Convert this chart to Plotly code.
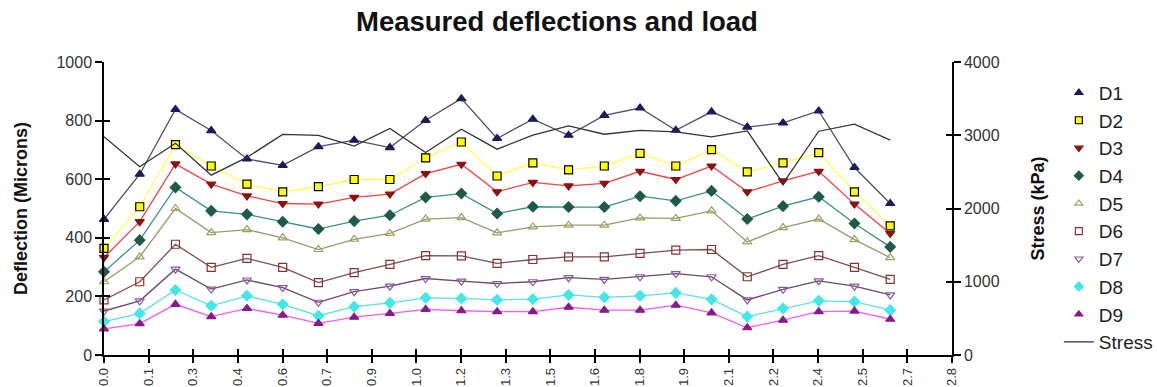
import numpy as np
import plotly.graph_objects as go

# ---- data ----
station = [0.000, 0.118, 0.236, 0.354, 0.472, 0.590, 0.708, 0.826, 0.944, 1.062, 1.180, 1.298,
           1.416, 1.534, 1.652, 1.770, 1.888, 2.006, 2.124, 2.242, 2.360, 2.478, 2.596]

D1 = [463, 617, 838, 766, 669, 647, 711, 733, 708, 801, 875, 739, 805, 750, 818, 843, 767, 830, 778, 792, 833, 640, 517]
D2 = [364, 506, 718, 645, 583, 557, 575, 599, 599, 673, 727, 611, 656, 632, 645, 688, 645, 701, 625, 656, 691, 557, 441]
D3 = [333, 455, 652, 583, 543, 517, 515, 538, 549, 619, 651, 557, 589, 577, 586, 627, 599, 645, 557, 594, 627, 515, 415]
D4 = [284, 392, 572, 492, 480, 455, 430, 457, 477, 538, 551, 483, 506, 505, 505, 542, 526, 560, 464, 508, 540, 449, 369]
D5 = [250, 335, 500, 418, 428, 400, 360, 395, 415, 464, 469, 417, 437, 443, 443, 468, 466, 492, 386, 435, 464, 394, 332]
D6 = [188, 250, 378, 299, 330, 299, 247, 281, 309, 339, 338, 313, 326, 335, 335, 347, 358, 360, 267, 309, 339, 299, 258]
D7 = [150, 185, 293, 225, 256, 230, 180, 216, 235, 261, 252, 244, 250, 264, 258, 267, 278, 267, 188, 224, 253, 235, 205]
D8 = [114, 142, 222, 168, 202, 173, 134, 165, 178, 195, 193, 188, 191, 205, 197, 202, 212, 190, 131, 159, 185, 182, 153]
D9 = [89, 107, 173, 131, 159, 136, 108, 129, 142, 156, 151, 148, 148, 163, 153, 153, 170, 144, 93, 119, 148, 150, 122]
stress = [2980, 2570, 2890, 2455, 2697, 3012, 2997, 2851, 3092, 2765, 3083, 2810, 3001, 3128, 3014, 3067,
          3046, 2978, 3060, 2342, 3055, 3151, 2933]

x_tick_labels = ["0.0", "0.1", "0.3", "0.4", "0.6", "0.7", "0.9", "1.0", "1.2", "1.3",
                 "1.5", "1.6", "1.8", "1.9", "2.1", "2.2", "2.4", "2.5", "2.7", "2.8"]
series_names = ["D1", "D2", "D3", "D4", "D5", "D6", "D7", "D8", "D9"]

# ---- styles ----
styles = {
    "D1": dict(symbol="triangle-up", mcolor="#1c1c5c", mline="#1c1c5c", lcolor="#4e4e6e"),
    "D2": dict(symbol="square", mcolor="#ffff00", mline="#000000", lcolor="#ffff55"),
    "D3": dict(symbol="triangle-down", mcolor="#8b1212", mline="#8b1212", lcolor="#f04444"),
    "D4": dict(symbol="diamond", mcolor="#1e5a48", mline="#1e5a48", lcolor="#3f8f8f"),
    "D5": dict(symbol="triangle-up-open", mcolor="#a0a060", mline="#a0a060", lcolor="#9a9a70"),
    "D6": dict(symbol="square-open", mcolor="#8b3030", mline="#8b3030", lcolor="#7a5050"),
    "D7": dict(symbol="triangle-down-open", mcolor="#8a5a9a", mline="#8a5a9a", lcolor="#6a4a6a"),
    "D8": dict(symbol="diamond", mcolor="#40e8e8", mline="#40e8e8", lcolor="#60e0e0"),
    "D9": dict(symbol="triangle-up", mcolor="#8a1a8a", mline="#8a1a8a", lcolor="#f060f0"),
}
values = {"D1": D1, "D2": D2, "D3": D3, "D4": D4, "D5": D5, "D6": D6, "D7": D7, "D8": D8, "D9": D9}

FONT = "Liberation Sans, Arial, sans-serif"

fig = go.Figure()
for name in series_names:
    s = styles[name]
    fig.add_trace(go.Scatter(
        x=station, y=values[name], name=name, mode="lines+markers",
        line=dict(color=s["lcolor"], width=1.3),
        marker=dict(symbol=s["symbol"], size=8, color=s["mcolor"],
                    line=dict(color=s["mline"], width=1.2)),
        cliponaxis=False, showlegend=False, legendgroup=name,
    ))
    # legend entry showing the marker only
    fig.add_trace(go.Scatter(
        x=[None], y=[None], name=name, mode="markers", legendgroup=name,
        marker=dict(symbol=s["symbol"], size=7, color=s["mcolor"],
                    line=dict(color=s["mline"], width=1.2)),
    ))

fig.add_trace(go.Scatter(
    x=station, y=stress, name="Stress", mode="lines", yaxis="y2",
    line=dict(color="#333333", width=1.3), cliponaxis=False,
))

# helper traces on overlay axes (for crossing ticks)
fig.add_trace(go.Scatter(x=[], y=[], xaxis="x2", yaxis="y3", showlegend=False, hoverinfo="skip"))
fig.add_trace(go.Scatter(x=[], y=[], xaxis="x2", yaxis="y4", showlegend=False, hoverinfo="skip"))

tickvals_x = np.linspace(0, 2.8, len(x_tick_labels))
xtickfont = dict(family=FONT, size=13, color="#333333")
ytickfont = dict(family=FONT, size=16, color="#333333")
titlefont = dict(family=FONT, size=18, color="#111111")

fig.update_layout(
    width=1157, height=387,
    margin=dict(l=104, r=205, t=62, b=32, autoexpand=False),
    paper_bgcolor="white", plot_bgcolor="white",
    title=dict(text="<b>Measured deflections and load</b>", x=0.4814, xanchor="center",
               y=0.945, yanchor="middle", font=dict(family=FONT, size=27.5, color="#111111")),
    showlegend=True,
    legend=dict(x=1.126, xanchor="left", y=0.96, yanchor="top",
                font=dict(family=FONT, size=19, color="#222222"),
                bgcolor="rgba(0,0,0,0)", tracegroupgap=0),
    xaxis=dict(range=[0, 2.8], tickvals=tickvals_x, ticktext=x_tick_labels, tickangle=-90,
               ticks="outside", ticklen=6, tickwidth=1.5, tickcolor="black",
               showline=True, linecolor="black", linewidth=1.5, showgrid=False, zeroline=False,
               tickfont=xtickfont, automargin=False),
    xaxis2=dict(range=[0, 2.8], overlaying="x", tickvals=tickvals_x, showticklabels=False,
                ticks="inside", ticklen=6, tickwidth=1.5, tickcolor="black",
                showline=False, showgrid=False, zeroline=False, side="bottom", automargin=False),
    yaxis=dict(range=[0, 1000], tickvals=[0, 200, 400, 600, 800, 1000],
               ticks="outside", ticklen=7, tickwidth=1.5, tickcolor="black",
               showline=True, linecolor="black", linewidth=1.5, showgrid=False, zeroline=False,
               tickfont=ytickfont, automargin=False,
               title=dict(text="<b>Deflection (Microns)</b>", font=titlefont, standoff=24)),
    yaxis2=dict(range=[0, 4000], tickvals=[0, 1000, 2000, 3000, 4000], overlaying="y", side="right",
                ticks="outside", ticklen=7, tickwidth=1.5, tickcolor="black",
                showline=True, linecolor="black", linewidth=1.5, showgrid=False, zeroline=False,
                tickfont=ytickfont, automargin=False,
                title=dict(text="<b>Stress (kPa)</b>", font=titlefont, standoff=33)),
    yaxis3=dict(range=[0, 1000], tickvals=[0, 200, 400, 600, 800, 1000], overlaying="y", side="left",
                showticklabels=False, ticks="inside", ticklen=6, tickwidth=1.5, tickcolor="black",
                showline=False, showgrid=False, zeroline=False, automargin=False),
    yaxis4=dict(range=[0, 4000], tickvals=[0, 1000, 2000, 3000, 4000], overlaying="y", side="right",
                showticklabels=False, ticks="inside", ticklen=6, tickwidth=1.5, tickcolor="black",
                showline=False, showgrid=False, zeroline=False, automargin=False),
)

fig.write_html("out.html", config={"displayModeBar": False},
               post_script="document.body.style.margin='0';")
